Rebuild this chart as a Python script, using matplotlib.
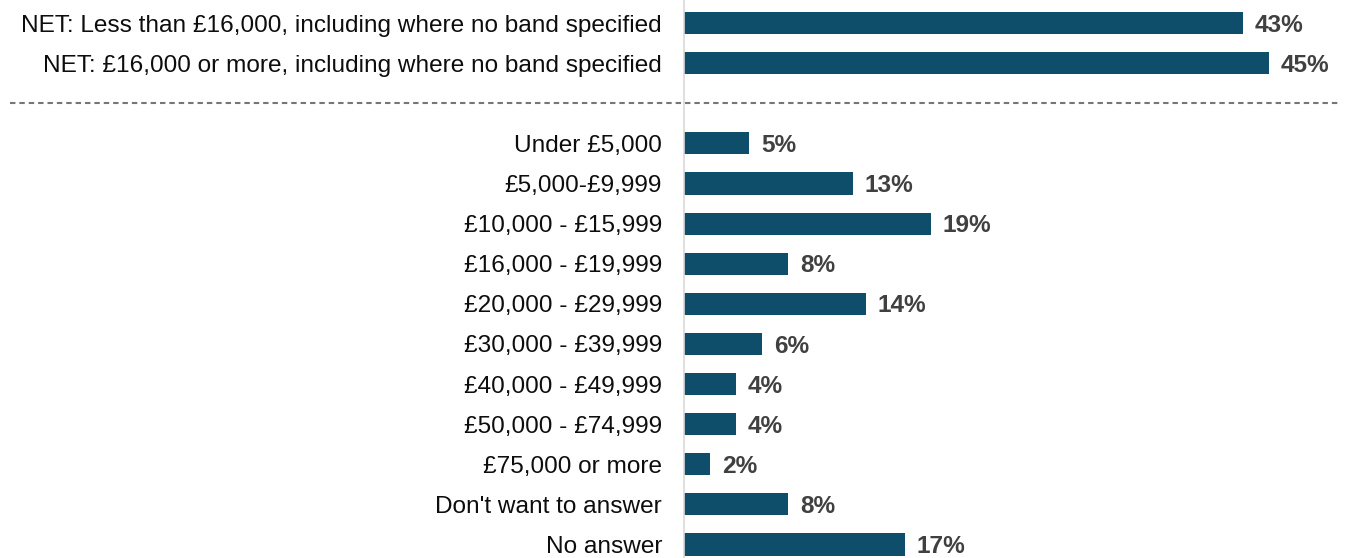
import matplotlib
matplotlib.use("Agg")
import matplotlib.pyplot as plt
from matplotlib.lines import Line2D
from matplotlib.transforms import blended_transform_factory

# Income bands, with the two NET rows shown above a separator
net_labels = [
    "NET: Less than £16,000, including where no band specified",
    "NET: £16,000 or more, including where no band specified",
]
net_values = [43, 45]

band_labels = [
    "Under £5,000",
    "£5,000-£9,999",
    "£10,000 - £15,999",
    "£16,000 - £19,999",
    "£20,000 - £29,999",
    "£30,000 - £39,999",
    "£40,000 - £49,999",
    "£50,000 - £74,999",
    "£75,000 or more",
    "Don't want to answer",
    "No answer",
]
band_values = [5, 13, 19, 8, 14, 6, 4, 4, 2, 8, 17]

BAR_COLOR = "#0f4e6b"
LABEL_COLOR = "#404040"

plt.rcParams["font.family"] = ["Liberation Sans", "DejaVu Sans"]

# one empty slot between the NET rows and the individual bands
labels = net_labels + band_labels
values = net_values + band_values
positions = list(range(len(net_labels))) + [
    len(net_labels) + 1 + i for i in range(len(band_labels))
]

fig = plt.figure(figsize=(13.52, 5.58), dpi=100)
ax = fig.add_axes([684 / 1352, 0, 1 - 684 / 1352, 1])

bars = ax.barh(positions, values, height=0.55, color=BAR_COLOR)

for bar, v in zip(bars, values):
    ax.annotate(f"{v}%", (bar.get_width(), bar.get_y() + bar.get_height() / 2),
                xytext=(8.6, -1.5), textcoords="offset points",
                ha="left", va="center", fontsize=17.6, fontweight="bold",
                color=LABEL_COLOR)

ax.set_yticks(positions)
ax.set_yticklabels(labels, fontsize=17.6, color="#0d0d0d")
ax.tick_params(axis="y", length=0, pad=15.8)
ax.set_xticks([])

ax.set_xlim(0, (1352 - 684) / 13)
ax.set_ylim(13.337, -0.574)

for side in ("top", "right", "bottom"):
    ax.spines[side].set_visible(False)
ax.spines["left"].set_color("#d9d9d9")
ax.spines["left"].set_linewidth(1.2)

# dashed separator across the whole figure
sep_y = len(net_labels)
trans = blended_transform_factory(fig.transFigure, ax.transData)
fig.add_artist(Line2D([10 / 1352, 1340 / 1352], [sep_y, sep_y], transform=trans,
                      color="#767676", linewidth=1.5, linestyle=(0, (2.6, 1.9))))

fig.savefig("out.png", dpi=100)
